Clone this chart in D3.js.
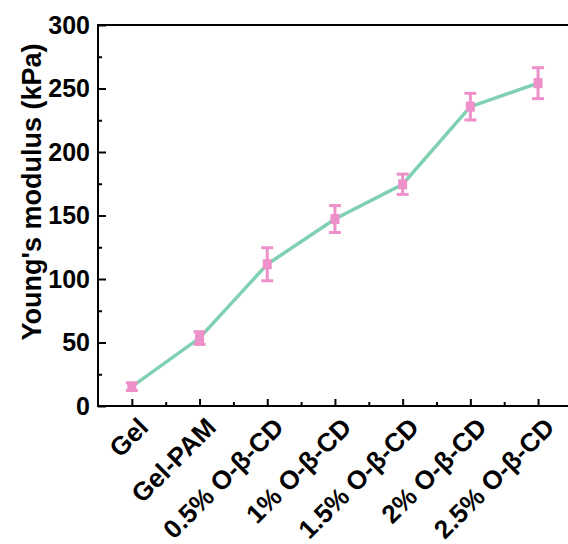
<!DOCTYPE html>
<html>
<head>
<meta charset="utf-8">
<script src="https://cdn.jsdelivr.net/npm/d3@7"></script>
<style>
  body { margin: 0; background: #fff; overflow: hidden; }
  text { font-family: "Liberation Sans", Arial, sans-serif; font-weight: bold; fill: #000; }
</style>
</head>
<body>
<div id="chart"></div>
<script>
// Chart data
var categories = ["Gel", "Gel-PAM", "0.5% O-β-CD", "1% O-β-CD", "1.5% O-β-CD", "2% O-β-CD", "2.5% O-β-CD"]
var modulus = [15.2, 53.5, 111.6, 147.2, 174.6, 235.7, 254.2]
var errors = [3, 5, 13, 10.6, 8, 10.5, 12.2]
var yTicks = [0, 50, 100, 150, 200, 250, 300]

var svgWidth = 568
var svgHeight = 544

var margin = { top: 25, left: 98 }
var height = 381
var step = 67.7

var svg = d3.select("#chart")
  .append("svg")
  .attr("width", svgWidth)
  .attr("height", svgHeight)

var chartGroup = svg.append("g")
  .attr("transform", `translate(${margin.left}, ${margin.top})`)

// Scales
var xScale = d3.scaleLinear()
  .domain([0.5, categories.length + 0.5])
  .range([0, step * categories.length])

var yScale = d3.scaleLinear()
  .domain([0, 300])
  .range([height, 0])

var width = xScale(categories.length + 0.5)

// Frame
chartGroup.append("rect")
  .attr("x", 0)
  .attr("y", 0)
  .attr("width", width)
  .attr("height", height)
  .attr("fill", "none")
  .attr("stroke", "#000")
  .attr("stroke-width", 2)

// Y axis (ticks inside)
var leftAxis = d3.axisLeft(yScale)
  .tickValues(yTicks)
  .tickSize(-8)
  .tickPadding(8)
  .tickFormat(d3.format("d"))

var yAxis = chartGroup.append("g").call(leftAxis)
yAxis.select(".domain").remove()
yAxis.selectAll("line").attr("stroke-width", 2)
yAxis.selectAll("text").style("font-size", "25px")

var yMinor = d3.axisLeft(yScale)
  .tickValues(d3.range(25, 300, 50))
  .tickSize(-4)
  .tickFormat("")
var yMinorAxis = chartGroup.append("g").call(yMinor)
yMinorAxis.select(".domain").remove()
yMinorAxis.selectAll("line").attr("stroke-width", 2)

// X axis (ticks inside)
var indices = d3.range(1, categories.length + 1)
var bottomAxis = d3.axisBottom(xScale)
  .tickValues(indices)
  .tickSize(-7)
  .tickFormat("")

var xAxis = chartGroup.append("g")
  .attr("transform", `translate(0, ${height})`)
  .call(bottomAxis)
xAxis.select(".domain").remove()
xAxis.selectAll("line").attr("stroke-width", 2)

var xMinor = d3.axisBottom(xScale)
  .tickValues(d3.range(1.5, categories.length + 0.5, 1))
  .tickSize(-4)
  .tickFormat("")
var xMinorAxis = chartGroup.append("g")
  .attr("transform", `translate(0, ${height})`)
  .call(xMinor)
xMinorAxis.select(".domain").remove()
xMinorAxis.selectAll("line").attr("stroke-width", 2)

// X labels rotated
chartGroup.append("g").selectAll("text")
  .data(categories)
  .enter()
  .append("text")
  .attr("transform", (d, i) => `translate(${xScale(i + 1) + 18}, ${height + 23}) rotate(-45)`)
  .attr("text-anchor", "end")
  .style("font-size", "26px")
  .text(d => d)

// Y label
svg.append("text")
  .attr("transform", `translate(41, 192) rotate(-90)`)
  .attr("text-anchor", "middle")
  .style("font-size", "27px")
  .text("Young's modulus (kPa)")

// Line
var line = d3.line()
  .x((d, i) => xScale(i + 1))
  .y(d => yScale(d))

chartGroup.append("path")
  .datum(modulus)
  .attr("d", line)
  .attr("fill", "none")
  .attr("stroke", "#7fd1b2")
  .attr("stroke-width", 3.5)

// Error bars
var pink = "#ee90ca"
var errGroup = chartGroup.append("g")
  .selectAll("g")
  .data(modulus)
  .enter()
  .append("g")

errGroup.append("line")
  .attr("x1", (d, i) => xScale(i + 1))
  .attr("x2", (d, i) => xScale(i + 1))
  .attr("y1", (d, i) => yScale(d + errors[i]))
  .attr("y2", (d, i) => yScale(d - errors[i]))
  .attr("stroke", pink)
  .attr("stroke-width", 3)

errGroup.append("line")
  .attr("x1", (d, i) => xScale(i + 1) - 6)
  .attr("x2", (d, i) => xScale(i + 1) + 6)
  .attr("y1", (d, i) => yScale(d + errors[i]))
  .attr("y2", (d, i) => yScale(d + errors[i]))
  .attr("stroke", pink)
  .attr("stroke-width", 3)

errGroup.append("line")
  .attr("x1", (d, i) => xScale(i + 1) - 6)
  .attr("x2", (d, i) => xScale(i + 1) + 6)
  .attr("y1", (d, i) => yScale(d - errors[i]))
  .attr("y2", (d, i) => yScale(d - errors[i]))
  .attr("stroke", pink)
  .attr("stroke-width", 3)

// Square markers
errGroup.append("rect")
  .attr("x", (d, i) => xScale(i + 1) - 4.5)
  .attr("y", d => yScale(d) - 5)
  .attr("width", 9)
  .attr("height", 10)
  .attr("fill", pink)
</script>
</body>
</html>
